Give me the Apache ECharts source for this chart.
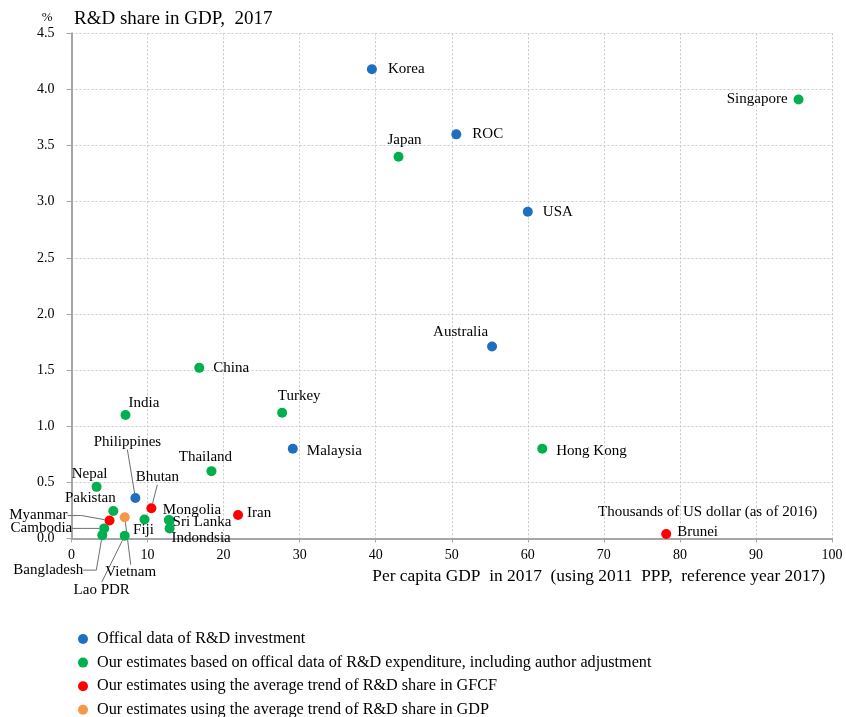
<!DOCTYPE html>
<html><head><meta charset="utf-8">
<script src="https://cdn.jsdelivr.net/npm/echarts@6/dist/echarts.min.js"></script>
<style>html,body{margin:0;padding:0;background:#fff}#c{width:846px;height:717px}</style>
</head><body><div id="c"></div>
<script>
// ---------- data ----------
const seriesNames = [
  'Offical data of R&D investment',
  'Our estimates based on offical data of R&D expenditure, including author adjustment',
  'Our estimates using the average trend of R&D share in GFCF',
  'Our estimates using the average trend of R&D share in GDP'
];
const officialNames = ['Korea', 'ROC', 'USA', 'Australia', 'Malaysia', 'Philippines'];
const officialX = [39.5, 50.6, 60.0, 55.3, 29.1, 8.4];
const officialY = [4.18, 3.60, 2.91, 1.71, 0.80, 0.36];

const estNames = ['Singapore', 'Japan', 'China', 'India', 'Turkey', 'Hong Kong', 'Thailand', 'Nepal',
  'Pakistan', 'Fiji', 'Mongolia', 'Sri Lanka', 'Indondsia', 'Cambodia', 'Bangladesh', 'Lao PDR'];
const estX = [95.6, 43.0, 16.8, 7.1, 27.7, 61.9, 18.4, 3.3, 5.5, 9.6, 12.8, 12.9, 12.9, 4.3, 4.05, 7.0];
const estY = [3.91, 3.40, 1.52, 1.10, 1.12, 0.80, 0.60, 0.46, 0.245, 0.17, 0.165, 0.16, 0.09, 0.09, 0.03, 0.025];

const gfcfNames = ['Bhutan', 'Myanmar', 'Iran', 'Brunei'];
const gfcfX = [10.5, 5.0, 21.9, 78.2];
const gfcfY = [0.27, 0.16, 0.21, 0.04];

const gdpNames = ['Vietnam'];
const gdpX = [7.0];
const gdpY = [0.19];

const xTicks = { min: 0, max: 100, interval: 10 };
const yTicks = { min: 0, max: 4.5, interval: 0.5 };

// ---------- label placement (style only): [dx, dy, align, leaderLine, length2] ----------
const labelPlace = {
  'Korea': [16, 0, 'left'], 'Singapore': [-11, 0, 'right'], 'ROC': [16, 0, 'left'],
  'Japan': [6, -17, 'center'], 'USA': [15, 0, 'left'], 'Australia': [-4, -14, 'right'],
  'China': [14, 0, 'left'], 'India': [3, -12, 'left'], 'Turkey': [17, -17, 'center'],
  'Malaysia': [14, 2, 'left'], 'Hong Kong': [14, 2, 'left'], 'Thailand': [-6, -14, 'center'],
  'Nepal': [-7, -13, 'center'], 'Philippines': [-8, -56, 'center', true, 0],
  'Bhutan': [6, -31, 'center', true, 0], 'Pakistan': [-23, -13, 'center'],
  'Myanmar': [-42, -5, 'right', true, 14], 'Cambodia': [-32, 0, 'right', true, 10],
  'Bangladesh': [-19, 35, 'right', true, 13], 'Vietnam': [6, 55, 'center', true, 0],
  'Lao PDR': [-23, 54, 'center', true, 0], 'Fiji': [-1, 11, 'center'],
  'Mongolia': [-6, -10, 'left'], 'Sri Lanka': [3, 2, 'left'], 'Indondsia': [2, 10, 'left'],
  'Iran': [9, -2, 'left'], 'Brunei': [11, -2, 'left']
};

const FONT = '"Liberation Serif", "Times New Roman", serif';
const colors = ['#1f6fc1', '#00b050', '#ff0000', '#f79646'];
const groups = [
  [officialNames, officialX, officialY],
  [estNames, estX, estY],
  [gfcfNames, gfcfX, gfcfY],
  [gdpNames, gdpX, gdpY]
];

function buildData(g) {
  return g[0].map((n, i) => {
    const p = labelPlace[n] || [];
    const item = { name: n, value: [g[1][i], g[2][i]] };
    if (p[3]) item.labelLine = { show: true, length2: p[4] || 0 };
    return item;
  });
}

const chart = echarts.init(document.getElementById('c'), null, { renderer: 'canvas' });
const option = {
  animation: false,
  backgroundColor: '#fff',
  title: {
    text: 'R&D share in GDP,  2017',
    left: 69, top: 5,
    textStyle: { fontFamily: FONT, fontSize: 19, fontWeight: 'normal', color: '#000' }
  },
  graphic: [{
    type: 'text', left: 598, top: 505,
    style: { text: 'Thousands of US dollar (as of 2016)', fontFamily: FONT, fontSize: 15, fill: '#000' }
  }],
  grid: { left: 71.5, right: 14, top: 33.3, bottom: 178.5, containLabel: false },
  legend: {
    orient: 'vertical', left: 73, top: 626, height: 100,
    icon: 'circle', itemWidth: 10, itemHeight: 10, itemGap: 7.6,
    textStyle: { fontFamily: FONT, fontSize: 16.2, color: '#000', padding: [0, 0, 0, 4] },
    data: seriesNames
  },
  xAxis: {
    type: 'value', min: xTicks.min, max: xTicks.max, interval: xTicks.interval,
    name: 'Per capita GDP  in 2017  (using 2011  PPP,  reference year 2017)',
    nameLocation: 'middle', nameGap: 29,
    nameTextStyle: { fontFamily: FONT, fontSize: 17.4, color: '#000', padding: [0, 0, 0, 294] },
    axisLine: { lineStyle: { color: '#a6a6a6', width: 2 } },
    axisTick: { show: true, length: 4, lineStyle: { color: '#a6a6a6' } },
    axisLabel: { fontFamily: FONT, fontSize: 14, color: '#000', margin: 10 },
    splitLine: { show: true, lineStyle: { color: '#c8c8c8', type: [2, 2], width: 1 } }
  },
  yAxis: {
    type: 'value', min: yTicks.min, max: yTicks.max, interval: yTicks.interval,
    name: '%', nameLocation: 'end', nameGap: 9,
    nameTextStyle: { fontFamily: FONT, fontSize: 13, color: '#000', align: 'right', padding: [0, 19, 0, 0] },
    axisLine: { show: true, lineStyle: { color: '#a6a6a6', width: 2 } },
    axisTick: { show: true, length: 5, lineStyle: { color: '#a6a6a6' } },
    axisLabel: { fontFamily: FONT, fontSize: 14, color: '#000', margin: 17, formatter: v => v.toFixed(1) },
    splitLine: { show: true, lineStyle: { color: '#c8c8c8', type: [2, 2], width: 1 } }
  },
  series: groups.map((g, si) => ({
    name: seriesNames[si],
    type: 'scatter',
    symbol: 'circle',
    symbolSize: 10,
    itemStyle: { color: colors[si], opacity: 1 },
    label: {
      show: true, position: 'right', formatter: '{b}',
      fontFamily: FONT, fontSize: 15, color: '#000'
    },
    labelLine: { show: false, lineStyle: { color: '#6e6e6e', width: 1 } },
    labelLayout: function (p) {
      const n = groups[p.seriesIndex][0][p.dataIndex];
      const pl = labelPlace[n] || [10, 0, 'left'];
      const cx = p.rect.x + p.rect.width / 2;
      const cy = p.rect.y + p.rect.height / 2;
      return { x: cx + pl[0], y: cy + pl[1], align: pl[2], verticalAlign: 'middle' };
    },
    data: buildData(g)
  }))
};
chart.setOption(option);
</script>
</body></html>
